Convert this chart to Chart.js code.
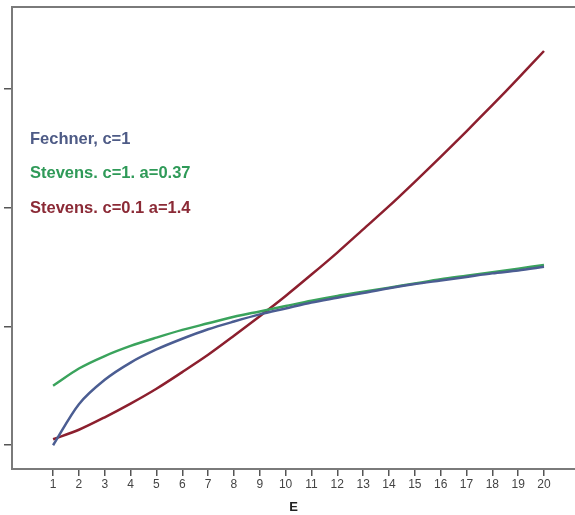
<!DOCTYPE html>
<html>
<head>
<meta charset="utf-8">
<script src="https://cdn.jsdelivr.net/npm/chart.js@4"></script>
<style>
  html, body { margin: 0; padding: 0; background: #fff; }
  #wrap { width: 575px; height: 515px; }
</style>
</head>
<body>
<div id="wrap"><canvas id="chart"></canvas></div>
<script>
// Data
const stimulus = [1, 2, 3, 4, 5, 6, 7, 8, 9, 10, 11, 12, 13, 14, 15, 16, 17, 18, 19, 20];
const fechner = [0, 0.69, 1.10, 1.39, 1.61, 1.79, 1.95, 2.08, 2.20, 2.30, 2.40, 2.48, 2.56, 2.64, 2.71, 2.77, 2.83, 2.89, 2.94, 3.00];
const stevensLow = [1, 1.29, 1.50, 1.67, 1.81, 1.94, 2.05, 2.16, 2.25, 2.34, 2.43, 2.51, 2.58, 2.65, 2.72, 2.79, 2.85, 2.91, 2.97, 3.03];
const stevensHigh = [0.1, 0.26, 0.47, 0.70, 0.95, 1.23, 1.52, 1.84, 2.17, 2.51, 2.87, 3.24, 3.63, 4.02, 4.43, 4.85, 5.28, 5.72, 6.17, 6.63];
const seriesNames = ['Fechner, c=1', 'Stevens. c=1. a=0.37', 'Stevens. c=0.1 a=1.4'];
const yTicks = [0, 2, 4, 6];

const lineColors = ['#4b5d92', '#3aa35c', '#8c1f2e'];
const textColors = ['#4e5b86', '#2f9a58', '#8b2a36'];
const axisColor = '#7a7a7a';

const toPoints = vals => vals.map((v, i) => ({ x: stimulus[i], y: v }));

// Inline labels in the upper left
const labelPlugin = {
    id: 'labels',
    afterDraw(chart) {
        const ctx = chart.ctx;
        ctx.save();
        ctx.font = 'bold 16.5px "Liberation Sans", Arial, sans-serif';
        ctx.textBaseline = 'middle';
        const ys = [139, 173, 208];
        seriesNames.forEach((name, i) => {
            ctx.fillStyle = textColors[i];
            ctx.fillText(name, 30, ys[i]);
        });
        ctx.restore();
    }
};

new Chart(document.getElementById('chart'), {
    type: 'line',
    data: {
        datasets: [fechner, stevensLow, stevensHigh].map((vals, i) => ({
            label: seriesNames[i],
            data: toPoints(vals),
            borderColor: lineColors[i],
            borderWidth: 2.5,
            pointRadius: 0,
            tension: 0.3,
            fill: false
        }))
    },
    options: {
        responsive: true,
        maintainAspectRatio: false,
        animation: false,
        layout: { padding: { left: 4, top: 7, right: 0, bottom: 0 } },
        plugins: {
            legend: { display: false },
            tooltip: { enabled: false }
        },
        scales: {
            x: {
                type: 'linear',
                min: -0.59,
                max: 21.2,
                afterBuildTicks: s => { s.ticks = stimulus.map(v => ({ value: v })); },
                ticks: {
                    color: '#444',
                    font: { size: 12, family: '"Liberation Sans", Arial, sans-serif' },
                    padding: 1,
                    maxRotation: 0,
                    autoSkip: false
                },
                grid: { drawOnChartArea: false, drawTicks: true, tickLength: 7, color: '#555', lineWidth: 1.5 },
                border: { color: axisColor, width: 2 },
                title: {
                    display: true,
                    text: 'E',
                    color: '#222',
                    font: { size: 13, weight: 'bold', family: '"Liberation Sans", Arial, sans-serif' },
                    padding: { top: 7, bottom: 0 }
                }
            },
            xTop: {
                type: 'linear',
                position: 'top',
                min: -0.59,
                max: 21.2,
                ticks: { display: false },
                grid: { display: false, drawTicks: false },
                border: { color: axisColor, width: 2 }
            },
            y: {
                min: -0.4,
                max: 7.37,
                afterBuildTicks: s => { s.ticks = yTicks.map(v => ({ value: v })); },
                ticks: { display: false },
                grid: { drawOnChartArea: false, drawTicks: true, tickLength: 8, color: '#555', lineWidth: 1.5 },
                border: { color: axisColor, width: 2 }
            }
        }
    },
    plugins: [labelPlugin]
});
</script>
</body>
</html>
